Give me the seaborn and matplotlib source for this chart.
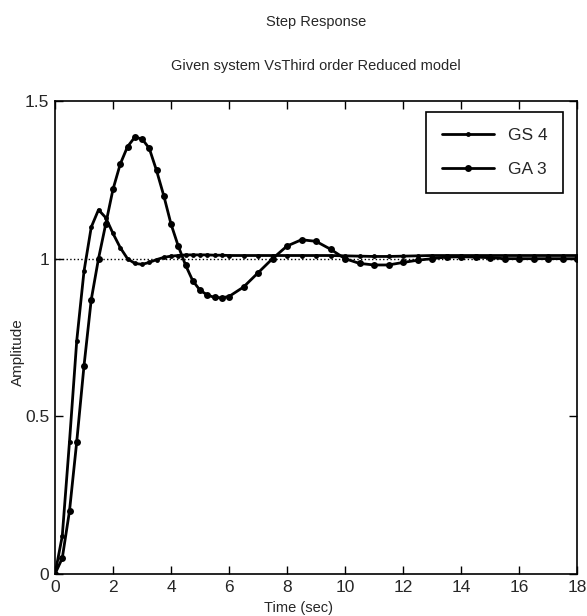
import matplotlib
matplotlib.use("Agg")
import matplotlib.pyplot as plt
import seaborn as sns
import pandas as pd

# ---- data ----
time_s = [0, 0.25, 0.5, 0.75, 1.0, 1.25, 1.5, 1.75, 2.0, 2.25, 2.5, 2.75, 3.0,
          3.25, 3.5, 3.75, 4.0, 4.25, 4.5, 4.75, 5.0, 5.25, 5.5, 5.75, 6.0,
          6.5, 7.0, 7.5, 8.0, 8.5, 9.0, 9.5, 10.0, 10.5, 11.0, 11.5, 12.0,
          12.5, 13.0, 13.5, 14.0, 14.5, 15.0, 15.5, 16.0, 16.5, 17.0, 17.5, 18.0]

gs4 = [0, 0.12, 0.42, 0.74, 0.96, 1.10, 1.155, 1.13, 1.08, 1.035, 1.0, 0.985, 0.982,
       0.988, 0.997, 1.004, 1.008, 1.010, 1.012, 1.012, 1.012, 1.012, 1.011, 1.011, 1.010,
       1.010, 1.010, 1.010, 1.010, 1.010, 1.010, 1.010, 1.009, 1.008, 1.007, 1.007, 1.008,
       1.009, 1.010, 1.010, 1.010, 1.010, 1.010, 1.010, 1.010, 1.010, 1.010, 1.010, 1.010]

ga3 = [0, 0.05, 0.20, 0.42, 0.66, 0.87, 1.0, 1.11, 1.22, 1.30, 1.355, 1.385, 1.38,
       1.35, 1.28, 1.20, 1.11, 1.04, 0.98, 0.93, 0.90, 0.885, 0.877, 0.876, 0.88,
       0.91, 0.955, 1.0, 1.04, 1.06, 1.055, 1.03, 1.0, 0.985, 0.98, 0.98, 0.988,
       0.995, 1.0, 1.005, 1.006, 1.005, 1.003, 1.0, 1.0, 1.0, 1.0, 1.0, 1.0]

series_names = ["GS 4", "GA 3"]
x_ticks = [0, 2, 4, 6, 8, 10, 12, 14, 16, 18]
y_ticks = [0, 0.5, 1, 1.5]
y_tick_labels = ["0", "0.5", "1", "1.5"]

# ---- style ----
sns.set_theme(style="ticks")
plt.rcParams['font.family'] = ['Liberation Sans Narrow', 'Liberation Sans', 'DejaVu Sans']
plt.rcParams['xtick.direction'] = 'in'
plt.rcParams['ytick.direction'] = 'in'

fig = plt.figure(figsize=(5.87, 6.16), dpi=100)
ax = fig.add_axes([55 / 587, 42 / 616, 522 / 587, 473 / 616])

df_a = pd.DataFrame({"t": time_s, "y": gs4})
df_b = pd.DataFrame({"t": time_s, "y": ga3})

sns.lineplot(data=df_a, x="t", y="y", ax=ax, color="black", linewidth=2.0,
             marker="o", markersize=3.5, markeredgewidth=0, label=series_names[0])
sns.lineplot(data=df_b, x="t", y="y", ax=ax, color="black", linewidth=2.0,
             marker="o", markersize=5, markeredgewidth=0, label=series_names[1])

ax.axhline(1.0, color="black", linestyle=":", linewidth=1.0, zorder=0)

ax.set_xlim(0, 18)
ax.set_ylim(0, 1.5)
ax.set_xticks(x_ticks)
ax.set_xticklabels([str(v) for v in x_ticks], fontsize=12.5)
ax.set_yticks(y_ticks)
ax.set_yticklabels(y_tick_labels, fontsize=12.5)
ax.tick_params(axis="both", which="both", top=True, right=True, length=6,
               width=1, color="black", pad=4)
for sp in ax.spines.values():
    sp.set_color("black")
    sp.set_linewidth(1.2)

ax.set_xlabel("Time (sec)", fontsize=10.5)
ax.xaxis.set_label_coords(0.466, -0.058)
ax.set_ylabel("Amplitude", fontsize=11)
ax.yaxis.set_label_coords(-0.058, 0.47)

fig.text(0.5 * (55 + 577) / 587, 1 - 22 / 616, "Step Response", ha="center",
         va="center", fontsize=10.5)
fig.text(0.5 * (55 + 577) / 587, 1 - 66 / 616, "Given system VsThird order Reduced model",
         ha="center", va="center", fontsize=10.5)

leg = ax.legend(loc="upper right", fontsize=12.5, frameon=True, fancybox=False,
                edgecolor="black", framealpha=1, handlelength=3.0,
                borderpad=0.9, labelspacing=1.1, borderaxespad=0,
                bbox_to_anchor=(0.973, 0.977))
leg.get_frame().set_linewidth(1.2)

fig.savefig("out.png", dpi=100)
